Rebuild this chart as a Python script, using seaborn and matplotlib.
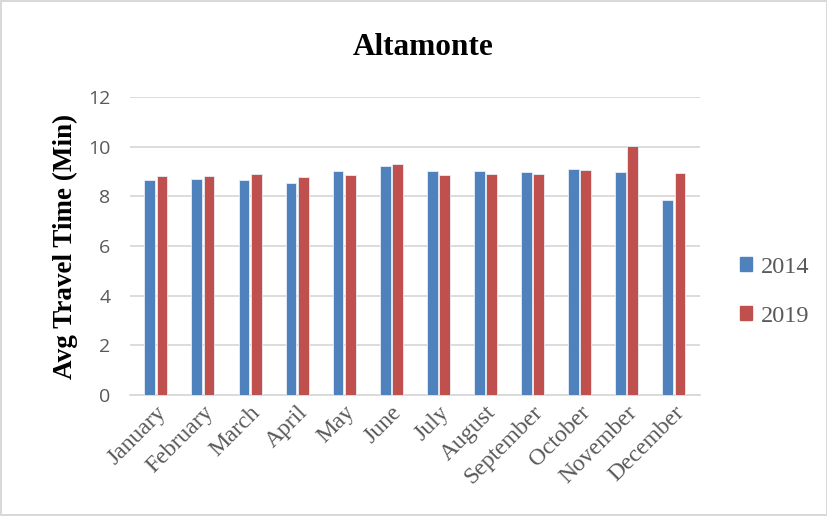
import matplotlib
matplotlib.use("Agg")
import matplotlib.pyplot as plt
import seaborn as sns
import pandas as pd

months = ["January", "February", "March", "April", "May", "June", "July",
          "August", "September", "October", "November", "December"]
travel_2014 = [8.66, 8.68, 8.64, 8.54, 9.01, 9.24, 9.02, 9.03, 8.99, 9.10, 8.99, 7.87]
travel_2019 = [8.80, 8.82, 8.89, 8.79, 8.87, 9.30, 8.86, 8.89, 8.91, 9.06, 10.04, 8.94]
years = ["2014", "2019"]
yticks = [0, 2, 4, 6, 8, 10, 12]

df = pd.DataFrame({
    "Month": months * 2,
    "Year": [years[0]] * len(months) + [years[1]] * len(months),
    "Value": travel_2014 + travel_2019,
})

sns.set_theme(style="white")
plt.rcParams["font.family"] = ["Liberation Serif", "DejaVu Serif"]

palette = {"2014": "#4F81BD", "2019": "#C0504D"}
text_gray = "#595959"

fig = plt.figure(figsize=(8.28, 5.16), dpi=100)
ax = fig.add_axes([0.157, 0.2345, 0.688, 0.5775])

sns.barplot(data=df, x="Month", y="Value", hue="Year", order=months,
            hue_order=years, palette=palette, width=0.52, gap=0.12,
            saturation=1, edgecolor="#E6EEF7", linewidth=0.6, ax=ax,
            legend=False, zorder=3)

ax.set_ylim(0, 12)
ax.set_xlim(-0.55, len(months) - 0.45)
ax.set_yticks(yticks)
ax.set_yticklabels([str(v) for v in yticks], family="Open Sans",
                   fontsize=14, color=text_gray)
ax.yaxis.grid(True, color="#D9D9D9", linewidth=1.3, zorder=0)
ax.xaxis.grid(False)
for s in ["top", "right", "left"]:
    ax.spines[s].set_visible(False)
ax.spines["bottom"].set_color("#D9D9D9")
ax.spines["bottom"].set_linewidth(1.3)
ax.tick_params(axis="both", length=0)
ax.tick_params(axis="y", pad=14)

ax.set_xticks(range(len(months)))
ax.set_xticklabels(months, rotation=45, ha="right", rotation_mode="anchor",
                   fontsize=17, color=text_gray)
ax.tick_params(axis="x", pad=5)

ax.set_xlabel("")
ax.set_ylabel("Avg Travel Time (Min)", fontsize=19.5, fontweight="bold",
              color="black", labelpad=7)
fig.text(0.511, 0.908, "Altamonte", ha="center", va="center",
         fontsize=22.5, fontweight="bold", color="black")

handles = [plt.Rectangle((0, 0), 1, 1, color=palette[y]) for y in years]
fig.legend(handles, years, loc="center left", bbox_to_anchor=(0.867, 0.435),
           frameon=False, fontsize=17.5, labelcolor=text_gray,
           handlelength=0.5, handleheight=0.5, handletextpad=0.35,
           labelspacing=1.15)

fig.patch.set_edgecolor("#D9D9D9")
fig.patch.set_linewidth(1.5)

fig.savefig("out.png", dpi=100, edgecolor=fig.get_edgecolor())
